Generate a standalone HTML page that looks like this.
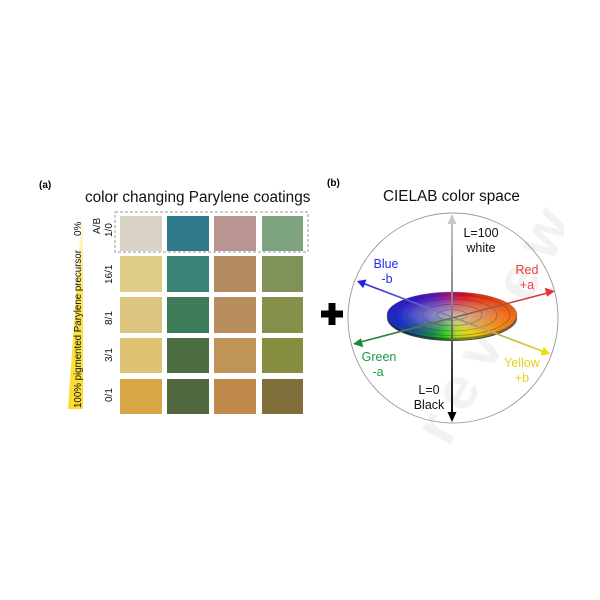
<!DOCTYPE html>
<html><head><meta charset="utf-8">
<style>
html,body{margin:0;padding:0;background:#fff;}
#wrap{position:relative;width:600px;height:600px;overflow:hidden;background:#fff;font-family:"Liberation Sans",Arial,sans-serif;}
svg{position:absolute;left:0;top:0;}
.disk{position:absolute;border-radius:50%;}
</style></head><body>
<div id="wrap">
<svg width="600" height="600" viewBox="0 0 600 600">
  <defs>
    <linearGradient id="wedge" x1="0" y1="1" x2="0" y2="0">
      <stop offset="0" stop-color="#fbdc2c"/>
      <stop offset="0.6" stop-color="#fde452"/>
      <stop offset="1" stop-color="#fffbe8"/>
    </linearGradient>
    <clipPath id="wmclip"><rect x="0" y="0" width="564" height="600"/></clipPath>
  </defs>
  <!-- watermark -->
  <g clip-path="url(#wmclip)">
    <text x="0" y="0" transform="translate(448,448) rotate(-61)" font-family="Liberation Sans,sans-serif" font-weight="bold" font-size="60" fill="#f2f2f2" textLength="258">review</text>
  </g>

  <!-- panel (a) -->
  <text x="39" y="188" font-size="10" font-weight="bold" fill="#000">(a)</text>
  <text x="85" y="202" font-size="15.3" fill="#111">color changing Parylene coatings</text>

  <polygon points="68,409 83,409 83,218 81.5,218" fill="url(#wedge)"/>
  <text transform="translate(81,408) rotate(-90)" font-size="9.8" fill="#111" textLength="158">100%  pigmented Parylene precursor</text>
  <text transform="translate(81,236) rotate(-90)" font-size="10" fill="#111">0%</text>

  <text transform="translate(100,234) rotate(-90)" font-size="10" fill="#111">A/B</text>
  <text transform="translate(112,237) rotate(-90)" font-size="10" fill="#111">1/0</text>
  <text transform="translate(112,284) rotate(-90)" font-size="10" fill="#111">16/1</text>
  <text transform="translate(112,325) rotate(-90)" font-size="10" fill="#111">8/1</text>
  <text transform="translate(112,362) rotate(-90)" font-size="10" fill="#111">3/1</text>
  <text transform="translate(112,402) rotate(-90)" font-size="10" fill="#111">0/1</text>

  <rect x="115" y="212" width="193" height="40" fill="none" stroke="#9a9a9a" stroke-width="1" stroke-dasharray="3,2"/>

  <!-- squares -->
  <g>
    <rect x="120" y="216" width="42" height="35" fill="#d8d3c5"/>
    <rect x="167" y="216" width="42" height="35" fill="#2e7a8c"/>
    <rect x="214" y="216" width="42" height="35" fill="#b99592"/>
    <rect x="262" y="216" width="41" height="35" fill="#7ea47f"/>

    <rect x="120" y="256" width="42" height="36" fill="#ddcb88"/>
    <rect x="167" y="256" width="42" height="36" fill="#3a8276"/>
    <rect x="214" y="256" width="42" height="36" fill="#b48b60"/>
    <rect x="262" y="256" width="41" height="36" fill="#80925a"/>

    <rect x="120" y="297" width="42" height="36" fill="#dcc57e"/>
    <rect x="167" y="297" width="42" height="36" fill="#3e7b58"/>
    <rect x="214" y="297" width="42" height="36" fill="#b88e5e"/>
    <rect x="262" y="297" width="41" height="36" fill="#849049"/>

    <rect x="120" y="338" width="42" height="35" fill="#dfc372"/>
    <rect x="167" y="338" width="42" height="35" fill="#4d6d42"/>
    <rect x="214" y="338" width="42" height="35" fill="#c09459"/>
    <rect x="262" y="338" width="41" height="35" fill="#868c40"/>

    <rect x="120" y="379" width="42" height="35" fill="#d7a747"/>
    <rect x="167" y="379" width="42" height="35" fill="#4f683d"/>
    <rect x="214" y="379" width="42" height="35" fill="#c08a4b"/>
    <rect x="262" y="379" width="41" height="35" fill="#806f3a"/>
  </g>

  <!-- plus -->
  <rect x="321" y="310.5" width="22" height="7" fill="#000"/>
  <rect x="328.5" y="303" width="7" height="22" fill="#000"/>

  <!-- panel (b) -->
  <text x="327" y="186" font-size="10" font-weight="bold" fill="#000">(b)</text>
  <text x="383" y="201" font-size="15.3" fill="#111">CIELAB color space</text>
  <circle cx="453" cy="318" r="105" fill="none" stroke="#9a9a9a" stroke-width="0.9"/>
</svg>

<!-- disk -->
<div class="disk" style="left:387px;top:295px;width:130px;height:46px;background:conic-gradient(from 0deg,#6a0c40,#900a14,#982a08,#a05a10,#988608,#709008,#1c800c,#0c502a,#0c1c7a,#200c78,#460c64,#6a0c40);border:1px solid #444;box-sizing:border-box;"></div>
<div class="disk" style="left:387px;top:292px;width:130px;height:46px;background:radial-gradient(ellipse at center,rgba(0,0,0,0) 62%,rgba(0,0,0,0.18) 100%),radial-gradient(ellipse at center,rgba(200,188,192,0.9) 0%,rgba(200,185,190,0.5) 28%,rgba(200,190,190,0) 60%),conic-gradient(from 0deg,#b0126e,#e0101e,#e83a10,#f0801a,#ead414,#b8e014,#30d414,#138a48,#1530c8,#3a14c8,#7412a8,#b0126e);"></div>

<svg width="600" height="600" viewBox="0 0 600 600">
  <defs>
    <linearGradient id="vgrad" x1="0" y1="215" x2="0" y2="421" gradientUnits="userSpaceOnUse">
      <stop offset="0" stop-color="#c8c8c8"/>
      <stop offset="0.5" stop-color="#777"/>
      <stop offset="1" stop-color="#000"/>
    </linearGradient>
    <linearGradient id="byg" x1="357" y1="281" x2="550" y2="354" gradientUnits="userSpaceOnUse">
      <stop offset="0" stop-color="#2222ee"/>
      <stop offset="0.5" stop-color="#8888aa"/>
      <stop offset="1" stop-color="#eedd00"/>
    </linearGradient>
    <linearGradient id="grg" x1="353" y1="344" x2="555" y2="291" gradientUnits="userSpaceOnUse">
      <stop offset="0" stop-color="#1a8a3a"/>
      <stop offset="0.5" stop-color="#7a6a50"/>
      <stop offset="1" stop-color="#ee3030"/>
    </linearGradient>
  </defs>
  <!-- rings on disk -->
  <g fill="none" stroke="#333" stroke-opacity="0.45" stroke-width="0.7">
    <ellipse cx="452" cy="315" rx="15" ry="5.3"/>
    <ellipse cx="452" cy="315" rx="30" ry="10.6"/>
    <ellipse cx="452" cy="315" rx="45" ry="16"/>
    <ellipse cx="452" cy="315" rx="58" ry="20.5"/>
  </g>
  <ellipse cx="452" cy="315" rx="65" ry="23" fill="none" stroke="#555" stroke-opacity="0.5" stroke-width="0.6"/>

  <!-- blue-yellow axis -->
  <line x1="363" y1="283.3" x2="543" y2="351.4" stroke="url(#byg)" stroke-width="1.6"/>
  <polygon points="357,281 366.5,279.5 363.2,288.2" fill="#2222ee"/>
  <polygon points="550,354 540.5,355.5 543.8,346.8" fill="#eedd00"/>
  <!-- green-red axis -->
  <line x1="359" y1="342.4" x2="549" y2="292.6" stroke="url(#grg)" stroke-width="1.6"/>
  <polygon points="353,344 361,338.3 363.3,347.3" fill="#1a8a3a"/>
  <polygon points="555,291 547,296.7 544.7,287.7" fill="#ee3030"/>
  <!-- vertical L axis -->
  <line x1="452" y1="221" x2="452" y2="415" stroke="url(#vgrad)" stroke-width="2"/>
  <polygon points="452,214 447.5,224 456.5,224" fill="#c8c8c8"/>
  <polygon points="452,422 447.5,412 456.5,412" fill="#000"/>

  <!-- labels -->
  <g font-size="12.5" text-anchor="middle">
    <text x="481" y="237" fill="#111">L=100</text>
    <text x="481" y="252" fill="#111">white</text>
    <text x="386" y="268" fill="#2a2af0">Blue</text>
    <text x="387" y="283" fill="#2a2af0">-b</text>
    <text x="527" y="274" fill="#f03a3a">Red</text>
    <text x="527" y="289" fill="#f03a3a">+a</text>
    <text x="379" y="361" fill="#1a9a4a">Green</text>
    <text x="378" y="376" fill="#1a9a4a">-a</text>
    <text x="522" y="367" fill="#e6d21a">Yellow</text>
    <text x="522" y="382" fill="#e6d21a">+b</text>
    <text x="429" y="394" fill="#111">L=0</text>
    <text x="429" y="409" fill="#111">Black</text>
  </g>
</svg>
</div>
</body></html>
